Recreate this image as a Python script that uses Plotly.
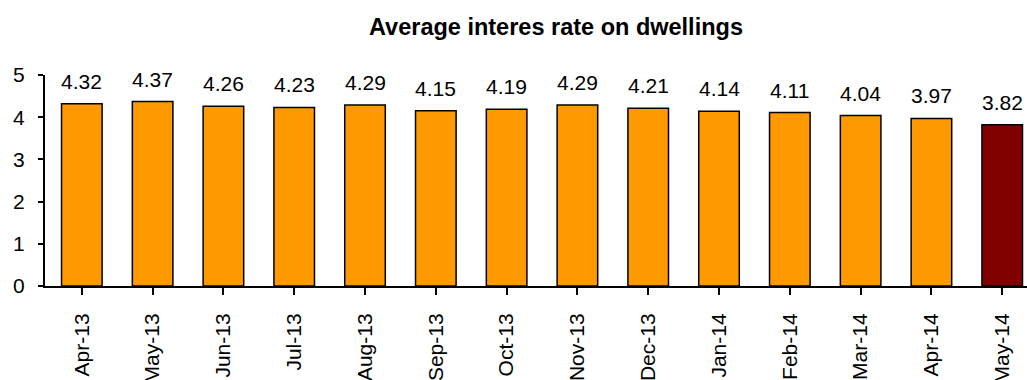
import plotly.graph_objects as go

months = ["Apr-13", "May-13", "Jun-13", "Jul-13", "Aug-13", "Sep-13", "Oct-13",
          "Nov-13", "Dec-13", "Jan-14", "Feb-14", "Mar-14", "Apr-14", "May-14"]
rates = [4.32, 4.37, 4.26, 4.23, 4.29, 4.15, 4.19, 4.29, 4.21, 4.14, 4.11, 4.04, 3.97, 3.82]

orange = "#FF9900"
latest = "#800000"
colors = [orange] * (len(rates) - 1) + [latest]

font = "Liberation Sans, Arial, sans-serif"

fig = go.Figure()
fig.add_trace(go.Bar(
    x=list(range(len(months))),
    y=rates,
    width=0.573,
    marker=dict(color=colors, line=dict(color="black", width=1.5)),
    hoverinfo="skip",
))

for i, v in enumerate(rates):
    fig.add_annotation(x=i, y=v, text=f"{v:.2f}", showarrow=False,
                       yanchor="bottom", yshift=9,
                       font=dict(family=font, size=21, color="black"))

fig.add_annotation(text="<b>Average interes rate on dwellings</b>",
                   xref="paper", yref="paper", x=0.52, y=1, yshift=48,
                   yanchor="middle", showarrow=False,
                   font=dict(family=font, size=23.5, color="black"))

fig.update_layout(
    width=1027, height=380,
    margin=dict(l=45, r=0, t=75, b=94),
    plot_bgcolor="white", paper_bgcolor="white",
    showlegend=False,
    font=dict(family=font, color="black"),
)
fig.update_xaxes(
    range=[-0.52, 13.35], automargin=False,
    tickmode="array", tickvals=list(range(len(months))), ticktext=months,
    tickangle=-90, tickson="boundaries",
    ticks="outside", ticklen=7, tickwidth=1.5, tickcolor="black",
    showline=True, linecolor="black", linewidth=2,
    showgrid=False, zeroline=False,
    ticklabelstandoff=10,
    tickfont=dict(family=font, size=21, color="black"),
)
fig.update_yaxes(
    range=[0, 5], dtick=1, automargin=False,
    ticks="outside", ticklen=5, tickwidth=1.5, tickcolor="black",
    showline=True, linecolor="black", linewidth=2,
    showgrid=False, zeroline=False,
    ticklabelstandoff=9,
    tickfont=dict(family=font, size=21, color="black"),
)

fig.write_html("out.html")
